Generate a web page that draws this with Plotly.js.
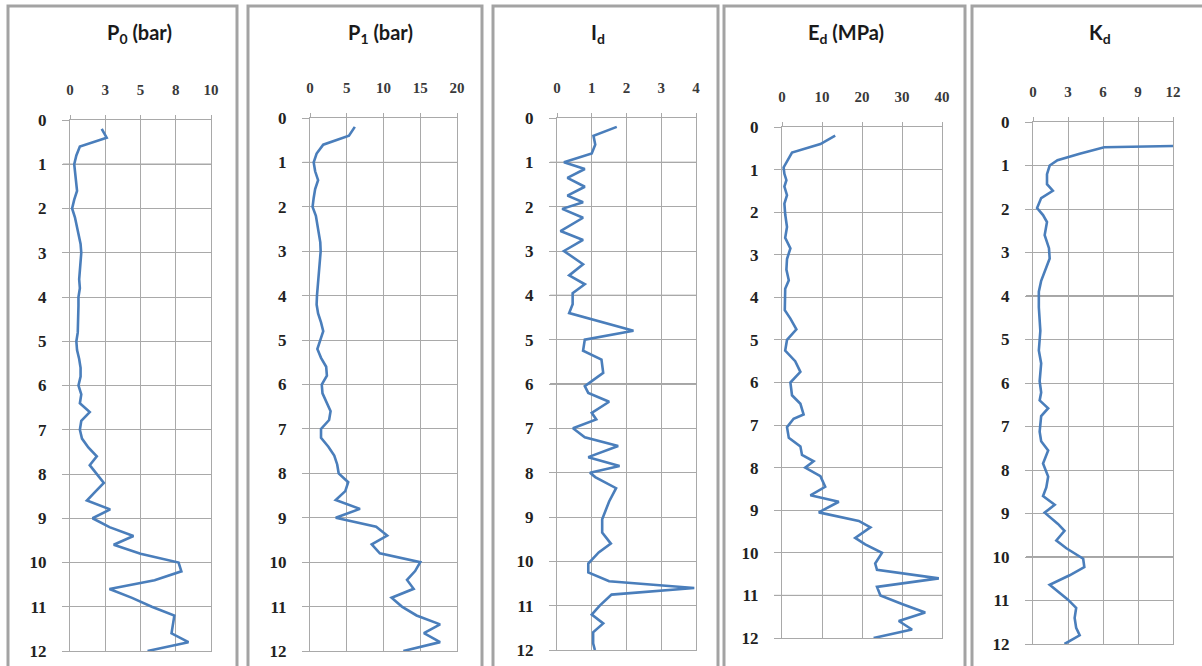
<!DOCTYPE html>
<html>
<head>
<meta charset="utf-8">
<script src="https://cdn.plot.ly/plotly-3.0.1.min.js"></script>
<style>html,body{margin:0;padding:0;background:#fff;}#chart{width:1202px;height:666px;}</style>
</head>
<body>
<div id="chart"></div>
<script>
// ---------- DATA ----------
const panelTitles = ['P<sub>0</sub> (bar)', 'P<sub>1</sub> (bar)', 'I<sub>d</sub>', 'E<sub>d</sub> (MPa)', 'K<sub>d</sub>'];

const depthTicks = [0,1,2,3,4,5,6,7,8,9,10,11,12];

const p0TickVals = [0, 2.5, 5, 7.5, 10];
const p0TickText = ['0', '3', '5', '8', '10'];
const p1TickVals = [0, 5, 10, 15, 20];
const idTickVals = [0, 1, 2, 3, 4];
const edTickVals = [0, 10, 20, 30, 40];
const kdTickVals = [0, 3, 6, 9, 12];

const depthP = [0.2,0.4,0.6,0.8,1.0,1.2,1.4,1.6,1.8,2.0,2.2,2.4,2.6,2.8,3.0,3.2,3.4,3.6,3.8,4.0,
  4.2,4.4,4.6,4.8,5.0,5.2,5.4,5.6,5.8,6.0,6.2,6.4,6.6,6.8,7.0,7.2,7.4,7.6,7.8,8.0,
  8.2,8.4,8.6,8.8,9.0,9.2,9.4,9.6,9.8,10.0,10.2,10.4,10.6,10.8,11.0,11.2,11.4,11.6,11.8,12.0];

const p0 = [2.25,2.6,0.7,0.45,0.3,0.35,0.4,0.5,0.3,0.15,0.35,0.5,0.65,0.75,0.8,0.75,0.7,0.65,0.7,0.6,
  0.6,0.6,0.55,0.55,0.45,0.5,0.65,0.75,0.75,0.6,0.8,0.7,1.4,0.8,0.7,0.85,1.3,1.9,1.4,1.9,
  2.4,1.8,1.2,2.85,1.6,2.8,4.5,3.1,5.0,7.7,7.9,6.0,2.8,4.4,5.8,7.4,7.3,7.2,8.4,5.5];

const p1 = [6.1,5.3,1.8,0.9,0.5,0.7,1.1,0.7,0.5,0.35,0.8,1.0,1.2,1.4,1.45,1.35,1.2,1.1,1.0,0.95,
  0.9,1.1,1.5,1.8,1.4,1.0,1.5,2.2,2.3,1.6,1.7,2.2,2.8,2.6,1.5,1.5,2.5,3.3,3.7,3.9,
  5.2,4.8,3.5,6.8,3.5,9.0,10.5,8.4,9.5,15.0,14.3,13.2,14.1,11.1,12.5,14.5,17.7,15.5,17.7,12.7];

const depthId = [0.2,0.4,0.6,0.8,1.0,1.15,1.35,1.55,1.75,1.9,2.05,2.25,2.55,2.75,3.0,3.3,3.55,3.75,3.95,4.2,
  4.4,4.8,5.0,5.25,5.45,5.75,6.05,6.2,6.4,6.65,6.8,7.0,7.2,7.4,7.65,7.85,8.0,8.1,8.35,8.65,
  9.05,9.35,9.6,9.8,10.05,10.25,10.45,10.6,10.75,11.0,11.2,11.4,11.6,11.85,12.0];
const id = [1.72,1.05,1.1,1.0,0.2,0.8,0.3,0.8,0.3,0.75,0.15,0.75,0.1,0.75,0.2,0.75,0.35,0.8,0.45,0.45,
  0.35,2.2,0.8,0.75,1.28,1.33,0.8,0.9,1.5,1.0,1.13,0.46,0.8,1.76,0.9,1.8,0.95,1.1,1.7,1.5,
  1.3,1.3,1.55,1.2,0.9,0.9,1.5,3.95,1.57,1.23,1.0,1.33,1.04,1.04,1.09];

const depthEd = [0.2,0.4,0.6,0.8,0.95,1.1,1.25,1.4,1.6,1.8,2.05,2.35,2.6,2.85,3.1,3.35,3.6,3.8,4.3,4.5,
  4.75,5.0,5.25,5.5,5.75,6.0,6.3,6.5,6.75,6.85,7.05,7.3,7.5,7.7,7.85,8.0,8.2,8.45,8.65,8.8,
  9.05,9.25,9.4,9.65,9.8,10.0,10.25,10.4,10.6,10.8,11.0,11.2,11.4,11.6,11.8,12.0];
const ed = [13.3,9.6,2.5,1.25,0.4,0.6,1.1,0.6,1.25,0.6,0.8,1.25,0.8,2.1,1.25,1.1,1.7,0.8,0.7,2.1,
  3.6,1.25,0.8,3.3,4.6,2.1,2.5,4.6,5.4,2.9,1.25,1.7,4.6,5.0,7.9,5.8,9.6,10.8,7.1,14.2,
  9.2,19.2,22.1,18.3,20.8,25.0,23.3,23.75,39.2,23.75,24.6,30.0,35.8,29.2,32.5,22.9];

const depthKd = [0.55,0.58,0.73,0.88,1.0,1.2,1.43,1.58,1.75,1.98,2.14,2.3,2.6,2.9,3.14,3.45,3.65,3.9,4.26,4.8,
  5.25,5.55,5.96,6.22,6.4,6.58,6.76,7.12,7.34,7.55,7.85,8.15,8.4,8.6,8.8,8.98,9.24,9.4,9.62,9.8,
  10.04,10.23,10.42,10.64,10.8,10.98,11.17,11.4,11.63,11.8,12.0];
const kd = [12,6.1,4.0,2.1,1.43,1.2,1.2,1.7,0.7,0.35,0.86,1.2,1.0,1.37,1.43,1.0,0.7,0.5,0.5,0.63,
  0.5,0.7,0.57,0.7,0.57,1.3,0.7,0.57,0.7,1.3,0.86,1.3,1.14,0.86,1.86,1.0,2.14,2.7,2.0,2.86,
  4.3,4.4,3.14,1.43,2.14,3.0,3.7,3.57,3.7,4.0,2.7];

// darker (scanned) gridlines per panel
const darkLines = [[1,6],[1],[1,4,6],[11],[4,10]];

// ---------- LAYOUT ----------
const W = 1202, H = 666;
const px = v => v / W;
const py = v => 1 - v / H;

const panels = [
  {x: p0, y: depthP, range: [0,10], tv: p0TickVals, tt: p0TickText, xd: [70,211], yd: [120,651], box: [8,237], tx: 139},
  {x: p1, y: depthP, range: [0,20], tv: p1TickVals, tt: p1TickVals.map(String), xd: [310,457], yd: [118,651], box: [248,482], tx: 380},
  {x: id, y: depthId, range: [0,4], tv: idTickVals, tt: idTickVals.map(String), xd: [557,696], yd: [118,650], box: [493,718], tx: 598},
  {x: ed, y: depthEd, range: [0,40], tv: edTickVals, tt: edTickVals.map(String), xd: [782,942], yd: [127,638], box: [724,965], tx: 846},
  {x: kd, y: depthKd, range: [0,12], tv: kdTickVals, tt: kdTickVals.map(String), xd: [1033,1173], yd: [122,644], box: [972,1215], tx: 1100}
];

const gridCol = '#a9a9a9';
const tickFont = {family: 'Liberation Serif', size: 15, color: '#3a3a3a', weight: 'bold'};
const yTickFont = {family: 'Liberation Serif', size: 17, color: '#222', weight: 'bold'};

const traces = [];
const layout = {
  width: W, height: H,
  margin: {l: 0, r: 0, t: 0, b: 0},
  paper_bgcolor: '#fff', plot_bgcolor: '#fff',
  showlegend: false,
  shapes: [], annotations: []
};

panels.forEach((p, i) => {
  const n = i === 0 ? '' : String(i + 1);
  traces.push({
    type: 'scatter', mode: 'lines', x: p.x, y: p.y,
    xaxis: 'x' + n, yaxis: 'y' + n,
    line: {color: '#4a7ebb', width: 2.6},
    cliponaxis: true, hoverinfo: 'skip'
  });
  layout['xaxis' + n] = {
    domain: [px(p.xd[0]), px(p.xd[1])],
    anchor: 'y' + n, side: 'top', range: p.range,
    tickvals: p.tv, ticktext: p.tt,
    showgrid: true, gridcolor: gridCol, gridwidth: 1,
    zeroline: false, showline: true, linecolor: gridCol, mirror: true,
    ticks: 'outside', ticklen: 4, tickcolor: gridCol,
    tickfont: tickFont, ticklabelstandoff: 14, fixedrange: true
  };
  layout['yaxis' + n] = {
    domain: [py(p.yd[1]), py(p.yd[0])],
    anchor: 'x' + n, range: [12, 0],
    tickvals: depthTicks,
    showgrid: true, gridcolor: gridCol, gridwidth: 1,
    zeroline: false, showline: true, linecolor: gridCol, mirror: true,
    ticks: 'outside', ticklen: 7, tickcolor: gridCol,
    tickfont: yTickFont, ticklabelstandoff: 12, fixedrange: true
  };
  // panel border
  layout.shapes.push({
    type: 'rect', xref: 'paper', yref: 'paper',
    x0: px(p.box[0]), x1: px(p.box[1]), y0: -0.02, y1: py(6),
    line: {color: '#a3a3a3', width: 3}, layer: 'below'
  });
  // darker grid lines
  darkLines[i].forEach(d => {
    layout.shapes.push({
      type: 'line', xref: 'x' + n + ' domain', yref: 'y' + n,
      x0: -0.05, x1: 1, y0: d, y1: d,
      line: {color: '#4d4d4d', width: 1}, layer: 'below'
    });
  });
  // title
  layout.annotations.push({
    xref: 'paper', yref: 'paper', x: px(p.tx), y: py(34),
    xanchor: 'center', yanchor: 'middle', showarrow: false,
    text: panelTitles[i],
    font: {family: 'Lato', size: 20, color: '#1a1a1a', weight: 'bold'}
  });
});

Plotly.newPlot('chart', traces, layout, {staticPlot: true, displayModeBar: false});
</script>
</body>
</html>
